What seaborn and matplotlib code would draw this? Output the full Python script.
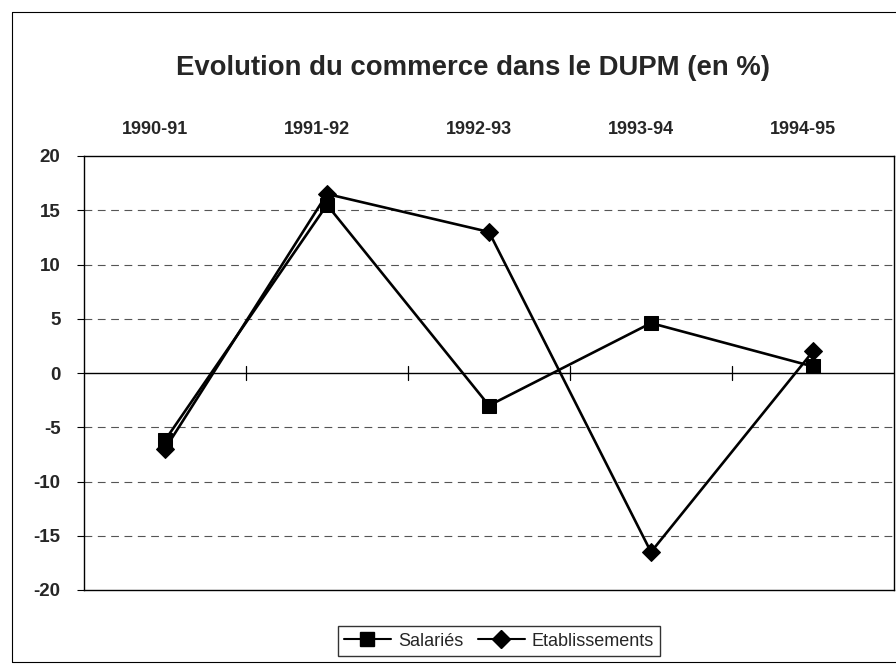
import matplotlib
matplotlib.use("Agg")
import matplotlib.pyplot as plt
import matplotlib.transforms as mtransforms
import seaborn as sns
import pandas as pd
from matplotlib.lines import Line2D

categories = ["1990-91", "1991-92", "1992-93", "1993-94", "1994-95"]
salaries = [-6.2, 15.5, -3.0, 4.6, 0.6]
etablissements = [-7.0, 16.5, 13.0, -16.5, 2.0]
yticks = [-20, -15, -10, -5, 0, 5, 10, 15, 20]

sns.set_theme(style="white")
plt.rcParams['font.family'] = ['Liberation Sans', 'DejaVu Sans']

W, H = 896, 672
fig = plt.figure(figsize=(W / 100, H / 100), dpi=100)
fig.patch.set_facecolor("white")
L, R, T, B = 84, 894, 156, 590
ax = fig.add_axes([L / W, 1 - B / H, (R - L) / W, (B - T) / H])

df = pd.DataFrame({
    "pos": list(range(len(categories))) * 2,
    "val": salaries + etablissements,
    "serie": ["Salariés"] * len(categories) + ["Etablissements"] * len(categories),
})

sns.lineplot(data=df[df.serie == "Salariés"], x="pos", y="val", ax=ax,
             color="black", lw=1.9, marker="s", markersize=10,
             markeredgecolor="black", label="Salariés", zorder=4)
sns.lineplot(data=df[df.serie == "Etablissements"], x="pos", y="val", ax=ax,
             color="black", lw=1.9, marker="D", markersize=9,
             markeredgecolor="black", label="Etablissements", zorder=5)

ax.set_xlim(-0.5, len(categories) - 0.5)
ax.set_ylim(-20, 20)
ax.set_yticks(yticks)
ax.set_yticklabels([str(v) for v in yticks], fontsize=13.5, fontweight="bold")
ax.tick_params(axis="y", left=True, length=5, width=0.8, color="black", pad=12)

# category labels on top
ax.xaxis.set_ticks_position("top")
ax.set_xticks(range(len(categories)))
ax.set_xticklabels(categories, fontsize=13, fontweight="bold")
ax.tick_params(axis="x", top=False, bottom=False, length=0, pad=13)
shift = mtransforms.ScaledTranslation(-10 / 100, 0, fig.dpi_scale_trans)
for lab in ax.get_xticklabels():
    lab.set_transform(lab.get_transform() + shift)
ax.set_xlabel("")
ax.set_ylabel("")

# dashed gridlines
for v in yticks:
    if v not in (-20, 0, 20):
        ax.axhline(v, color="#555555", lw=0.8, ls=(0, (7, 5)), zorder=1)
ax.axhline(0, color="black", lw=1.0, zorder=2)
for xb in [0.5, 1.5, 2.5, 3.5]:
    ax.plot([xb, xb], [-0.6, 0.6], color="black", lw=0.9, zorder=2)

for s in ax.spines.values():
    s.set_visible(True)
    s.set_color("black")
    s.set_linewidth(1.0)

ax.legend_.remove()
handles = [
    Line2D([], [], color="black", lw=1.5, marker="s", markersize=10, label="Salariés"),
    Line2D([], [], color="black", lw=1.5, marker="D", markersize=9, label="Etablissements"),
]
leg = fig.legend(handles=handles, loc="center", bbox_to_anchor=(499 / W, 1 - 641 / H),
                 ncol=2, frameon=True, fancybox=False, edgecolor="black",
                 handlelength=2.6, columnspacing=0.8, handletextpad=0.4,
                 borderpad=0.35, prop={"size": 13})
leg.get_frame().set_linewidth(1.0)

fig.text(473 / W, 1 - 68 / H, "Evolution du commerce dans le DUPM (en %)",
         ha="center", va="center", fontsize=19.8, fontweight="bold")

# outer chart frame
fig.add_artist(Line2D([12 / W, 12 / W], [1 - 12 / H, 1 - 662 / H], transform=fig.transFigure, color="black", lw=0.8))
fig.add_artist(Line2D([12 / W, 1], [1 - 12 / H, 1 - 12 / H], transform=fig.transFigure, color="black", lw=0.8))
fig.add_artist(Line2D([12 / W, 1], [1 - 662 / H, 1 - 662 / H], transform=fig.transFigure, color="black", lw=0.8))

fig.savefig("out.png", dpi=100, facecolor="white")
